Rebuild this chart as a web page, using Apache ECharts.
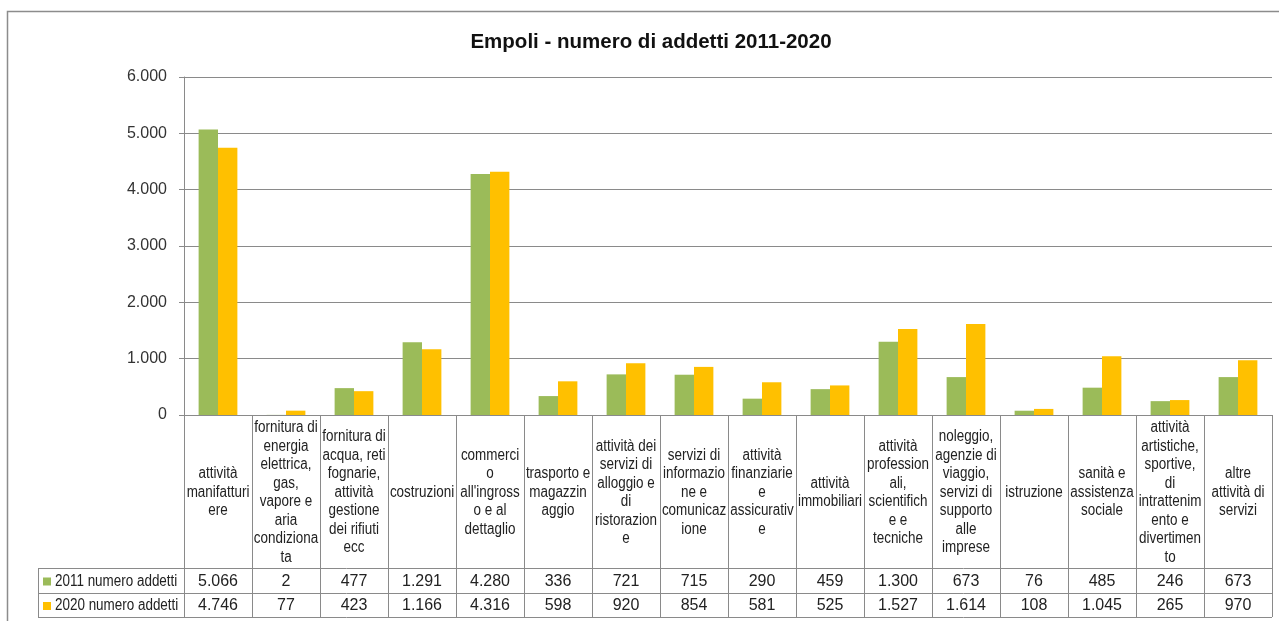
<!DOCTYPE html>
<html>
<head>
<meta charset="utf-8">
<script src="https://cdn.jsdelivr.net/npm/echarts@6/dist/echarts.min.js"></script>
<style>
html,body{margin:0;padding:0;background:#fff;}
#chart{width:1279px;height:621px;}
</style>
</head>
<body>
<div id="chart"></div>
<script>
const titleText = 'Empoli - numero di addetti 2011-2020';
const categories = [
  'attività\nmanifatturi\nere',
  'fornitura di\nenergia\nelettrica,\ngas,\nvapore e\naria\ncondiziona\nta',
  'fornitura di\nacqua, reti\nfognarie,\nattività\ngestione\ndei rifiuti\necc',
  'costruzioni',
  'commerci\no\nall\'ingross\no e al\ndettaglio',
  'trasporto e\nmagazzin\naggio',
  'attività dei\nservizi di\nalloggio e\ndi\nristorazion\ne',
  'servizi di\ninformazio\nne e\ncomunicaz\nione',
  'attività\nfinanziarie\ne\nassicurativ\ne',
  'attività\nimmobiliari',
  'attività\nprofession\nali,\nscientifich\ne e\ntecniche',
  'noleggio,\nagenzie di\nviaggio,\nservizi di\nsupporto\nalle\nimprese',
  'istruzione',
  'sanità e\nassistenza\nsociale',
  'attività\nartistiche,\nsportive,\ndi\nintrattenim\nento e\ndivertimen\nto',
  'altre\nattività di\nservizi'
];
const seriesNames = ['2011 numero addetti', '2020 numero addetti'];
const values2011 = [5066, 2, 477, 1291, 4280, 336, 721, 715, 290, 459, 1300, 673, 76, 485, 246, 673];
const values2020 = [4746, 77, 423, 1166, 4316, 598, 920, 854, 581, 525, 1527, 1614, 108, 1045, 265, 970];
const yMin = 0, yMax = 6000, yInterval = 1000;

const colors = ['#9BBB59', '#FFC000'];
const fmt = n => String(n).replace(/\B(?=(\d{3})+(?!\d))/g, '.');
const sans = '"Liberation Sans", Arial, sans-serif';
const gridColor = '#8a8a8a';
const squeeze = 0.84;

const chart = echarts.init(document.getElementById('chart'), null, {renderer: 'canvas'});
const G = {left: 184, right: 7, top: 77, bottom: 206};
chart.setOption({
  animation: false,
  grid: {left: G.left, right: G.right, top: G.top, bottom: G.bottom, containLabel: false},
  xAxis: {
    type: 'category', data: categories,
    axisLine: {show: true, lineStyle: {color: gridColor}},
    axisTick: {show: false}, axisLabel: {show: false}
  },
  yAxis: {
    type: 'value', min: yMin, max: yMax, interval: yInterval,
    axisLine: {show: true, lineStyle: {color: gridColor}},
    axisTick: {show: true, length: 5, lineStyle: {color: gridColor}},
    splitLine: {show: true, lineStyle: {color: gridColor, width: 1}},
    axisLabel: {formatter: v => fmt(v), fontFamily: sans, fontSize: 16, color: '#333', margin: 17}
  },
  series: [
    {name: seriesNames[0], type: 'bar', data: values2011, itemStyle: {color: colors[0]}, barGap: '0%', barCategoryGap: '43%'},
    {name: seriesNames[1], type: 'bar', data: values2020, itemStyle: {color: colors[1]}, barGap: '0%', barCategoryGap: '43%'}
  ]
});

function buildTable() {
  const W = chart.getWidth();
  const x1 = W - G.right;
  const yTop = chart.getHeight() - G.bottom;
  const rowTop = 568, rowMid = 593, rowBot = 617, legX = 38;
  const n = categories.length;
  const c0 = chart.convertToPixel({xAxisIndex: 0}, 0);
  const c1 = chart.convertToPixel({xAxisIndex: 0}, 1);
  const bw = c1 - c0;
  const els = [];
  const line = (xa, ya, xb, yb) => els.push({type: 'line', silent: true, z: 10,
    shape: {x1: xa, y1: ya, x2: xb, y2: yb}, style: {stroke: gridColor, lineWidth: 1}});
  els.push({type: 'rect', silent: true, shape: {x: 7.5, y: 11.5, width: 1400, height: 800},
    style: {fill: 'none', stroke: '#8c8c8c', lineWidth: 1.5}});
  els.push({type: 'text', silent: true, x: 651, y: 42,
    style: {text: titleText, font: 'bold 20.5px ' + sans, fill: '#111', textAlign: 'center', textVerticalAlign: 'middle'}});
  for (let i = 0; i <= n; i++) {
    const xc = chart.convertToPixel({xAxisIndex: 0}, Math.min(i, n - 1));
    const xb = Math.round(i < n ? xc - bw / 2 : xc + bw / 2) + 0.5;
    line(xb, yTop, xb, rowBot);
  }
  line(legX + 0.5, rowTop, legX + 0.5, rowBot);
  [rowTop, rowMid, rowBot].forEach(y => line(legX, y + 0.5, x1, y + 0.5));
  for (let i = 0; i < n; i++) {
    const xc = chart.convertToPixel({xAxisIndex: 0}, i);
    els.push({type: 'text', silent: true, x: xc, y: (yTop + rowTop) / 2 + 1, scaleX: squeeze,
      style: {text: categories[i], font: '16px ' + sans, fill: '#222', textAlign: 'center', textVerticalAlign: 'middle', lineHeight: 18.5}});
    els.push({type: 'text', silent: true, x: xc, y: (rowTop + rowMid) / 2 + 1,
      style: {text: fmt(values2011[i]), font: '16px ' + sans, fill: '#222', textAlign: 'center', textVerticalAlign: 'middle'}});
    els.push({type: 'text', silent: true, x: xc, y: (rowMid + rowBot) / 2 + 1,
      style: {text: fmt(values2020[i]), font: '16px ' + sans, fill: '#222', textAlign: 'center', textVerticalAlign: 'middle'}});
  }
  [[rowTop, rowMid], [rowMid, rowBot]].forEach((r, k) => {
    const yc = (r[0] + r[1]) / 2 + 1;
    els.push({type: 'rect', silent: true, shape: {x: 43, y: yc - 4, width: 8, height: 8}, style: {fill: colors[k]}});
    els.push({type: 'text', silent: true, x: 55, y: yc, scaleX: squeeze,
      style: {text: seriesNames[k], font: '16px ' + sans, fill: '#222', textAlign: 'left', textVerticalAlign: 'middle'}});
  });
  chart.setOption({graphic: {elements: els}});
}
buildTable();
</script>
</body>
</html>
